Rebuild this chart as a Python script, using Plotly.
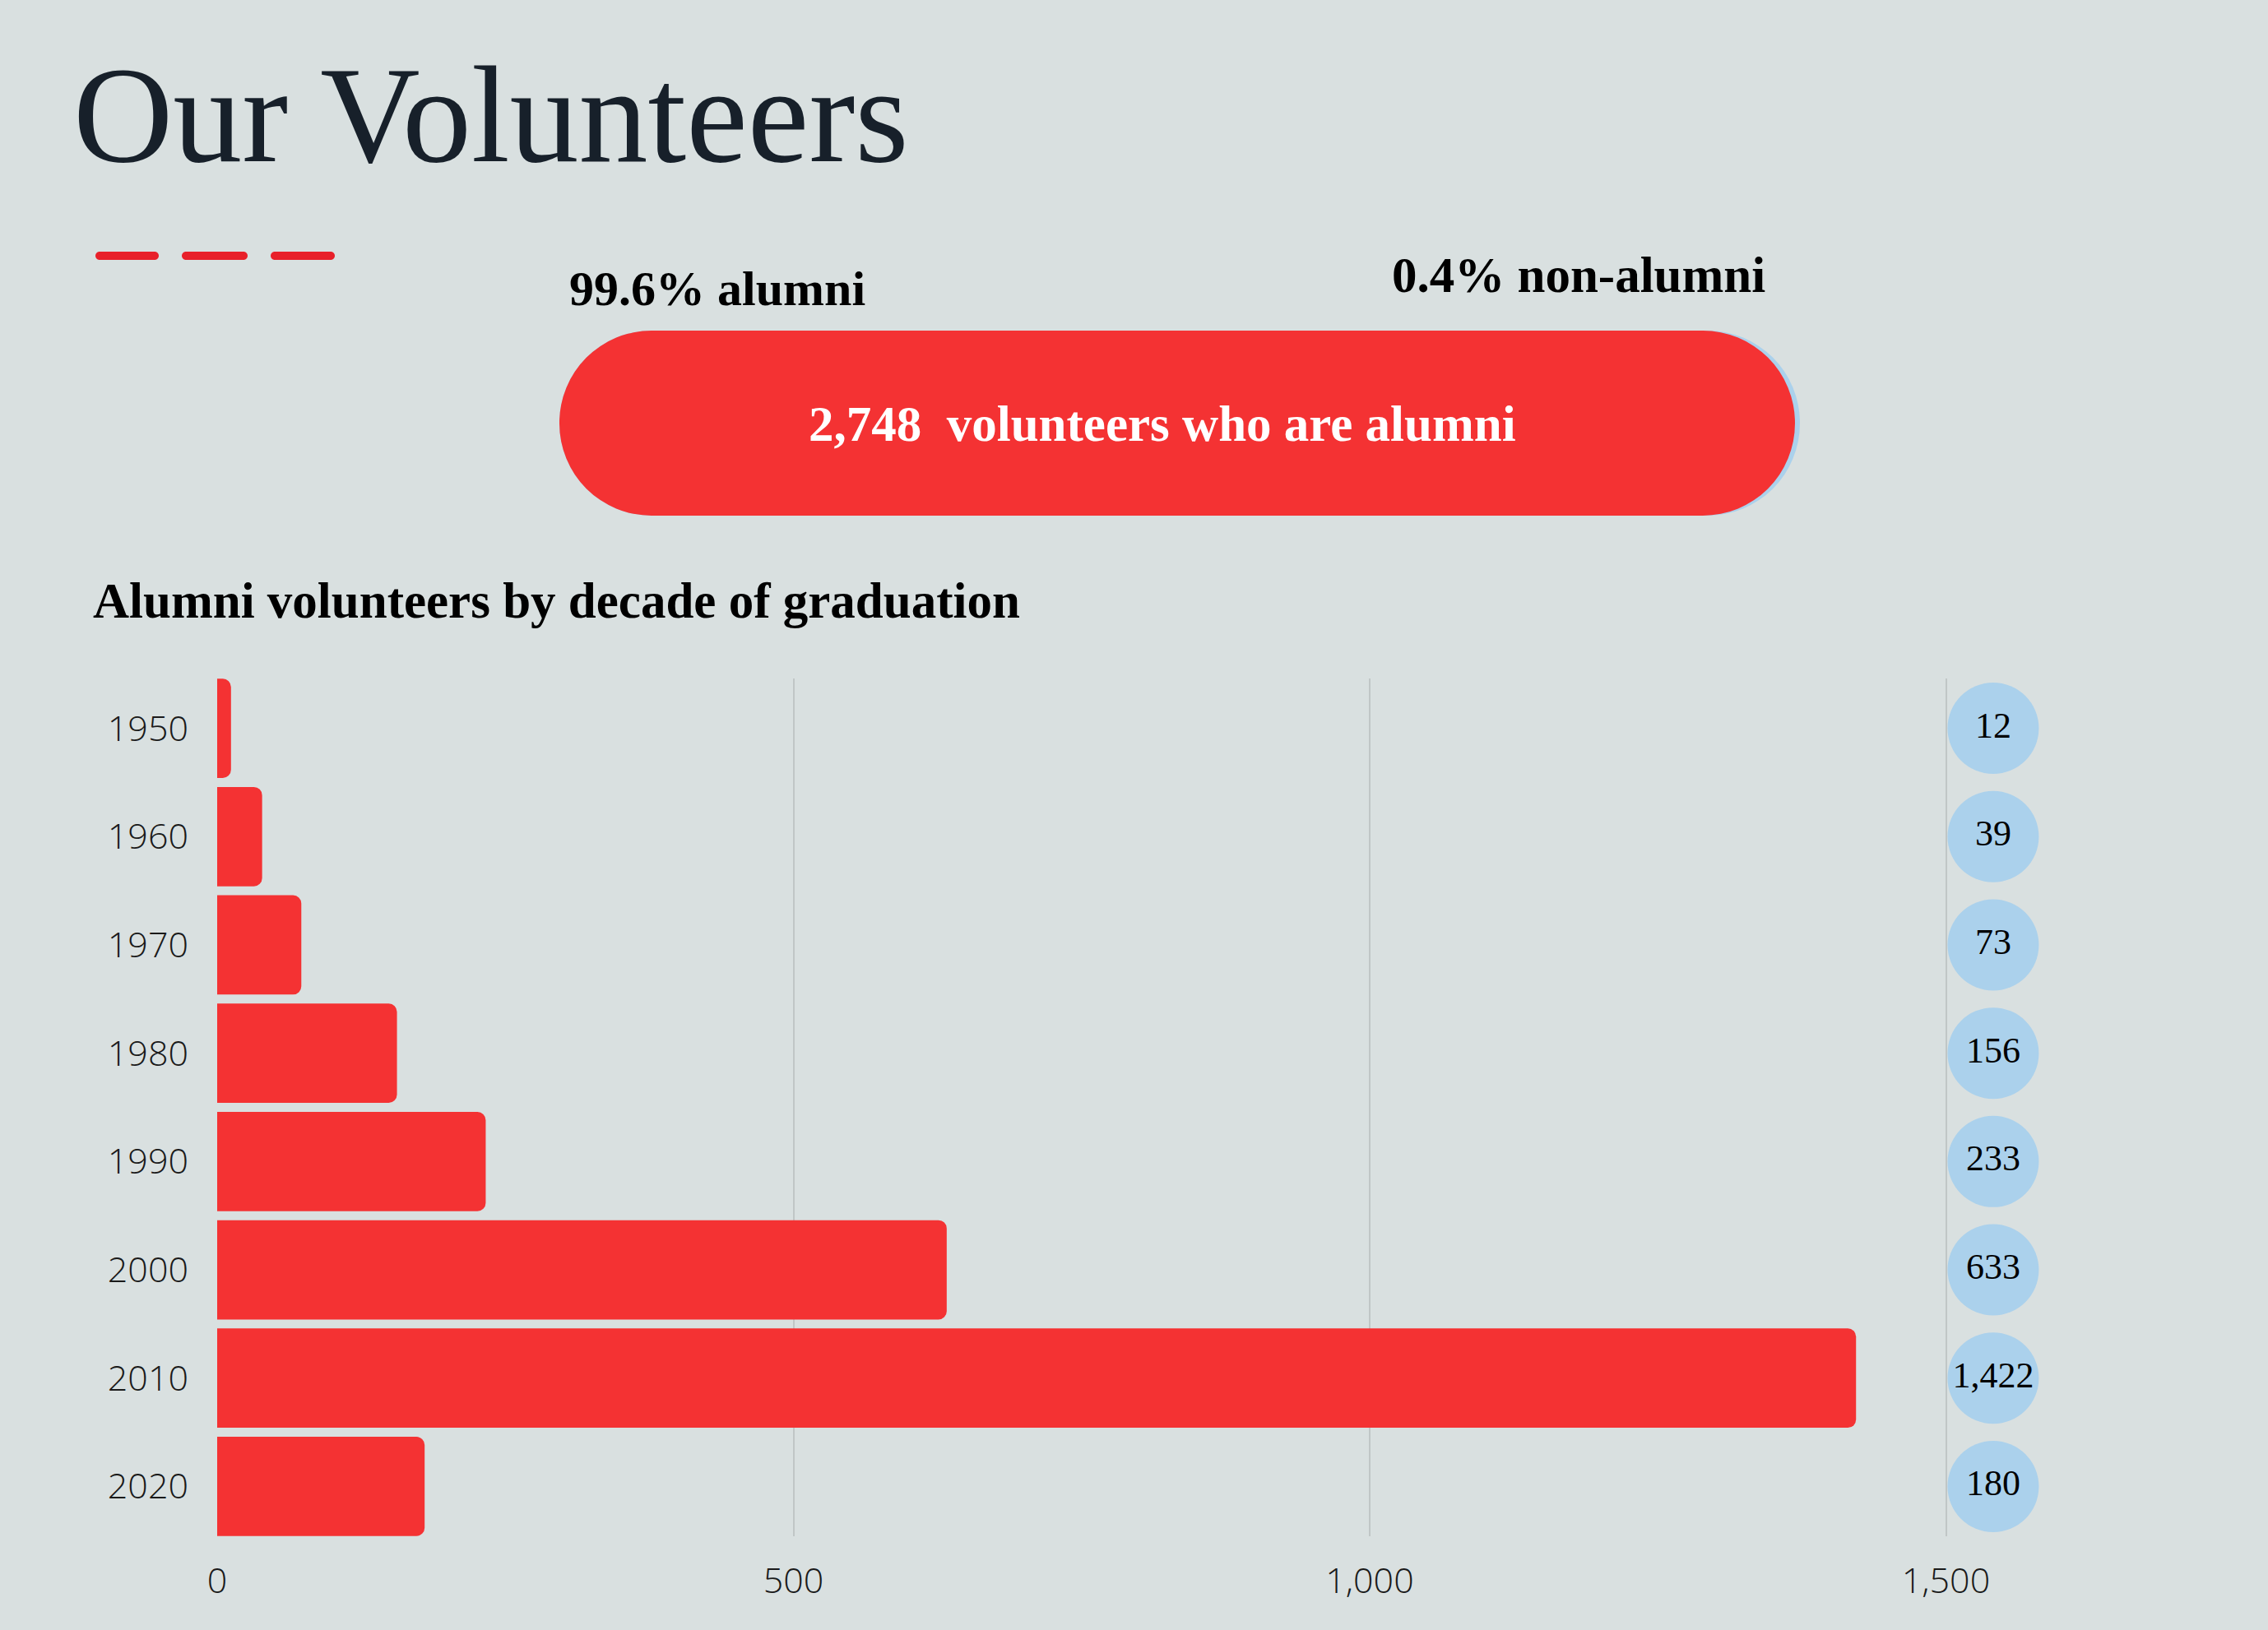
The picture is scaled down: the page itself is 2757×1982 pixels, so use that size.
import plotly.graph_objects as go

# ---------------- data ----------------
DECADES = ["1950", "1960", "1970", "1980", "1990", "2000", "2010", "2020"]
VOLUNTEERS = [12, 39, 73, 156, 233, 633, 1422, 180]
ALUMNI = 2748
NON_ALUMNI = 11
X_TICKS = [0, 500, 1000, 1500]

TITLE = "Our Volunteers"
SUBTITLE = "Alumni volunteers by decade of graduation"

# ---------------- style / layout constants ----------------
W, H = 2757, 1982
BG = "#d9e0e0"
RED = "#f43233"
BLUE = "#abd1ec"
DARK = "#17202a"
SERIF = "Liberation Serif"
SANS = "Open Sans"
LABEL_COL_X = 1541   # x position (axis units) of the value-bubble column
X_MAX = 1582


def px_x(p):
    return p / W


def px_y(p):
    return (H - p) / H


total = ALUMNI + NON_ALUMNI
alumni_pct = ALUMNI / total * 100
non_pct = NON_ALUMNI / total * 100

fig = go.Figure()

# main bars
fig.add_trace(go.Bar(
    x=VOLUNTEERS, y=DECADES, orientation="h",
    marker=dict(color=RED, cornerradius=10, line=dict(width=0)),
    xaxis="x", yaxis="y", hoverinfo="x+y", showlegend=False,
))

# value bubbles
fig.add_trace(go.Scatter(
    x=[LABEL_COL_X] * len(DECADES), y=DECADES, mode="markers+text",
    marker=dict(size=111, color=BLUE, line=dict(width=0)),
    text=[f"{v:,}" for v in VOLUNTEERS], textposition="middle center",
    textfont=dict(family=SERIF, size=44, color="#000000"),
    cliponaxis=False, xaxis="x", yaxis="y", showlegend=False, hoverinfo="skip",
))

# pill: whole (blue) behind alumni part (red)
for length, color in [(total, BLUE), (ALUMNI, RED)]:
    fig.add_trace(go.Bar(
        x=[length], base=[0], y=["share"], orientation="h", width=1,
        marker=dict(color=color, cornerradius="50%", line=dict(width=0)),
        xaxis="x2", yaxis="y2", showlegend=False, hoverinfo="skip",
    ))

annotations = [
    dict(text=TITLE, x=px_x(87), y=px_y(139), xanchor="left", yanchor="middle",
         font=dict(family=SERIF, size=168, color=DARK)),
    dict(text=f"<b>{alumni_pct:.1f}% alumni</b>", x=px_x(690), y=px_y(351), xanchor="left",
         yanchor="middle", font=dict(family=SERIF, size=60, color="#000000")),
    dict(text=f"<b>{non_pct:.1f}% non-alumni</b>", x=px_x(2148), y=px_y(334), xanchor="right",
         yanchor="middle", font=dict(family=SERIF, size=61, color="#000000")),
    dict(text=f"<b>{ALUMNI:,}\u00a0 volunteers who are alumni</b>", x=px_x(1413), y=px_y(515),
         xanchor="center", yanchor="middle", font=dict(family=SERIF, size=61, color="#ffffff")),
    dict(text=f"<b>{SUBTITLE}</b>", x=px_x(111), y=px_y(731), xanchor="left", yanchor="middle",
         font=dict(family=SERIF, size=61, color="#000000")),
]
for a in annotations:
    a.update(xref="paper", yref="paper", showarrow=False)

# decorative dashes under the title (rounded rectangles, pixel -> paper)
def rounded_rect(x0, x1, yc, h):
    r = h / 2
    y0, y1 = yc - r, yc + r
    k = 0.5523 * r
    pts = [
        f"M {px_x(x0 + r)},{px_y(y0)}",
        f"L {px_x(x1 - r)},{px_y(y0)}",
        f"C {px_x(x1 - r + k)},{px_y(y0)} {px_x(x1)},{px_y(yc - k)} {px_x(x1)},{px_y(yc)}",
        f"C {px_x(x1)},{px_y(yc + k)} {px_x(x1 - r + k)},{px_y(y1)} {px_x(x1 - r)},{px_y(y1)}",
        f"L {px_x(x0 + r)},{px_y(y1)}",
        f"C {px_x(x0 + r - k)},{px_y(y1)} {px_x(x0)},{px_y(yc + k)} {px_x(x0)},{px_y(yc)}",
        f"C {px_x(x0)},{px_y(yc - k)} {px_x(x0 + r - k)},{px_y(y0)} {px_x(x0 + r)},{px_y(y0)} Z",
    ]
    return " ".join(pts)

shapes = []
for x0, x1 in [(116, 193), (221, 301), (329, 407)]:
    shapes.append(dict(type="path", xref="paper", yref="paper",
                       path=rounded_rect(x0, x1, 311, 10),
                       fillcolor="#e8202a", line=dict(width=0)))

tickfont = dict(family=SANS, size=43, color="#1a1a1a", weight=300)

fig.update_layout(
    width=W, height=H, margin=dict(l=0, r=0, t=0, b=0, autoexpand=False),
    paper_bgcolor=BG, plot_bgcolor=BG,
    barmode="overlay", bargap=0.083,
    annotations=annotations, shapes=shapes,
    xaxis=dict(domain=[px_x(264), px_x(264 + X_MAX * 1.401)], range=[0, X_MAX],
               tickvals=X_TICKS, ticktext=[f"{v:,}" for v in X_TICKS],
               showgrid=True, gridcolor="#c0c6c6", gridwidth=1.5, zeroline=False,
               showline=False, ticks="", tickfont=tickfont, ticklabelstandoff=25,
               automargin=False, fixedrange=True),
    yaxis=dict(domain=[px_y(1868), px_y(825)], type="category",
               categoryorder="array", categoryarray=DECADES,
               range=[len(DECADES) - 1 + 0.46, -0.46],
               showgrid=False, zeroline=False, showline=False, ticks="",
               tickfont=tickfont, ticklabelstandoff=34, automargin=False, fixedrange=True),
    xaxis2=dict(domain=[px_x(680), px_x(2188)], range=[0, total], visible=False,
                anchor="y2", automargin=False, fixedrange=True),
    yaxis2=dict(domain=[px_y(627), px_y(402)], range=[-0.5, 0.5], visible=False,
                anchor="x2", type="category", automargin=False, fixedrange=True),
    showlegend=False,
)

fig.write_html(
    "out.html",
    config={"displayModeBar": False},
    post_script="document.body.style.margin='0';document.body.style.overflow='hidden';",
)
